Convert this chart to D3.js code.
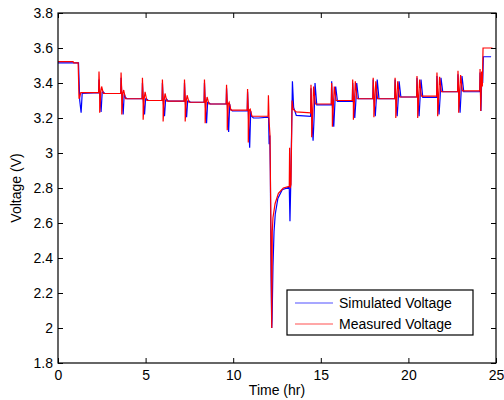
<!DOCTYPE html>
<html>
<head>
<meta charset="utf-8">
<script src="https://cdn.jsdelivr.net/npm/d3@7"></script>
<style>
  body { margin: 0; background: #fff; }
  svg { font-family: "Liberation Sans", Arial, sans-serif; }
</style>
</head>
<body>
<div id="chart"></div>
<script>
// x ticks / y ticks
const xTicks = [0, 5, 10, 15, 20, 25];
const yTicks = [1.8, 2, 2.2, 2.4, 2.6, 2.8, 3, 3.2, 3.4, 3.6, 3.8];

// [time (hr), voltage] before the first pulse
const simulatedStart = [[0, 3.515], [1.17, 3.515], [1.24, 3.3], [1.32, 3.23], [1.38, 3.34], [2.32, 3.345]];
const measuredStart = [[0, 3.522], [0.86, 3.522], [0.9, 3.515], [1.15, 3.515], [1.2, 3.31], [1.24, 3.32], [1.3, 3.345], [2.32, 3.345]];

// pulses: [time, peak, dip, second peak, level after]
const simulatedPulses = [
  [2.34, 3.42, 3.235, 3.35, 3.34],
  [3.6, 3.43, 3.22, 3.32, 3.31],
  [4.82, 3.40, 3.22, 3.31, 3.30],
  [5.96, 3.40, 3.21, 3.31, 3.297],
  [7.22, 3.40, 3.205, 3.30, 3.29],
  [8.36, 3.40, 3.17, 3.29, 3.28],
  [9.62, 3.37, 3.12, 3.25, 3.24],
  [10.82, 3.35, 3.03, 3.21, 3.20],
  [14.44, 3.37, 3.07, 3.40, 3.275],
  [15.62, 3.41, 3.15, 3.38, 3.295],
  [16.82, 3.40, 3.20, 3.40, 3.31],
  [17.99, 3.42, 3.21, 3.42, 3.31],
  [19.24, 3.42, 3.21, 3.41, 3.32],
  [20.49, 3.43, 3.21, 3.42, 3.318],
  [21.63, 3.44, 3.22, 3.43, 3.35],
  [22.83, 3.45, 3.23, 3.44, 3.35],
];
const measuredPulses = [
  [2.34, 3.465, 3.23, 3.38, 3.34],
  [3.6, 3.46, 3.22, 3.36, 3.31],
  [4.82, 3.43, 3.19, 3.35, 3.30],
  [5.96, 3.42, 3.18, 3.34, 3.297],
  [7.22, 3.42, 3.18, 3.33, 3.29],
  [8.36, 3.42, 3.17, 3.32, 3.28],
  [9.62, 3.39, 3.13, 3.29, 3.245],
  [10.82, 3.365, 3.06, 3.25, 3.21],
  [14.44, 3.39, 3.09, 3.38, 3.28],
  [15.62, 3.40, 3.15, 3.38, 3.30],
  [16.82, 3.42, 3.19, 3.41, 3.31],
  [17.99, 3.43, 3.205, 3.41, 3.31],
  [19.24, 3.43, 3.20, 3.41, 3.32],
  [20.49, 3.44, 3.20, 3.42, 3.325],
  [21.63, 3.46, 3.21, 3.435, 3.35],
  [22.83, 3.47, 3.23, 3.445, 3.355],
];

// deep discharge around 12 hr
const simulatedDrop = [
  [11.99, 3.205], [12.02, 3.2], [12.05, 3.05], [12.09, 3.1], [12.12, 2.9], [12.16, 2.3], [12.2, 2.0],
  [12.22, 2.05], [12.27, 2.35], [12.33, 2.55], [12.4, 2.65], [12.55, 2.74], [12.8, 2.79], [13.2, 2.805],
  [13.24, 2.61], [13.28, 2.8], [13.33, 3.1], [13.38, 3.41], [13.45, 3.26], [13.6, 3.215], [14.42, 3.21],
];
const measuredDrop = [
  [11.99, 3.21], [12.01, 3.33], [12.05, 3.18], [12.1, 3.1], [12.15, 2.6], [12.2, 2.0],
  [12.23, 2.55], [12.27, 2.63], [12.39, 2.71], [12.58, 2.77], [12.86, 2.80], [13.2, 2.81],
  [13.22, 3.03], [13.25, 2.8], [13.3, 2.82], [13.36, 3.30], [13.42, 3.25], [13.6, 3.235], [14.42, 3.23],
];

// last pulse and final charge step
const simulatedEnd = [[24.07, 3.35], [24.09, 3.46], [24.14, 3.24], [24.19, 3.45], [24.24, 3.40], [24.28, 3.55], [24.72, 3.55]];
const measuredEnd = [[24.07, 3.355], [24.09, 3.48], [24.13, 3.24], [24.18, 3.465], [24.22, 3.38], [24.26, 3.6], [24.8, 3.6]];

function buildSeries(start, pulses, drop, end, lag) {
  const pts = start.slice();
  const addPulse = (p) => {
    const prev = pts[pts.length - 1][1];
    const [t, peak, dip, peak2, level] = p;
    pts.push([t - 0.02, prev], [t, peak], [t + 0.04, prev], [t + 0.04 + lag, dip],
      [t + 0.1 + lag, prev], [t + 0.15 + lag, peak2], [t + 0.25 + lag, level], [t + 0.55 + lag, level]);
  };
  pulses.filter(p => p[0] < 12).forEach(addPulse);
  drop.forEach(d => pts.push(d));
  pulses.filter(p => p[0] > 12).forEach(addPulse);
  pts.push([end[0][0] - 0.5, pts[pts.length - 1][1]]);
  end.forEach(d => pts.push(d));
  return pts;
}

const simulated = buildSeries(simulatedStart, simulatedPulses, simulatedDrop, simulatedEnd, 0.08);
const measured = buildSeries(measuredStart, measuredPulses, measuredDrop, measuredEnd, 0);

const margin = { top: 13, right: 8, bottom: 37, left: 58 };
const width = 504 - margin.left - margin.right;
const height = 400 - margin.top - margin.bottom;

const svg = d3.select('#chart')
  .append('svg')
  .attr('width', 504)
  .attr('height', 400);
const g = svg.append('g')
  .attr('transform', `translate(${margin.left},${margin.top})`);

const x = d3.scaleLinear().domain([0, 25]).range([0, width]);
const y = d3.scaleLinear().domain([1.8, 3.8]).range([height, 0]);

const line = d3.line()
  .x(d => x(d[0]))
  .y(d => y(d[1]));

g.append('path')
  .datum(simulated)
  .attr('d', line)
  .attr('fill', 'none')
  .attr('stroke', '#0000ff')
  .attr('stroke-width', 1.2);
g.append('path')
  .datum(measured)
  .attr('d', line)
  .attr('fill', 'none')
  .attr('stroke', '#ff0000')
  .attr('stroke-width', 1.2);

// axes with inward ticks
const fmt = d => String(+d.toFixed(1));
const xAxis = g.append('g')
  .attr('transform', `translate(0,${height})`)
  .call(d3.axisBottom(x).tickValues(xTicks).tickFormat(fmt).tickSizeInner(-5).tickSizeOuter(0).tickPadding(7));
const yAxis = g.append('g')
  .call(d3.axisLeft(y).tickValues(yTicks).tickFormat(fmt).tickSizeInner(-5).tickSizeOuter(0).tickPadding(5));
g.append('g')
  .call(d3.axisTop(x).tickValues(xTicks).tickFormat('').tickSizeInner(-5).tickSizeOuter(0));
g.append('g')
  .attr('transform', `translate(${width},0)`)
  .call(d3.axisRight(y).tickValues(yTicks).tickFormat('').tickSizeInner(-5).tickSizeOuter(0));

g.selectAll('.domain').remove();
g.selectAll('.tick line').attr('stroke', '#000');
[xAxis, yAxis].forEach(a => a.selectAll('text')
  .attr('fill', '#000')
  .style('font-size', '14px')
  .style('font-family', '"Liberation Sans", Arial, sans-serif'));

g.append('rect')
  .attr('width', width)
  .attr('height', height)
  .attr('fill', 'none')
  .attr('stroke', '#000')
  .attr('stroke-width', 1.2);

svg.append('text')
  .attr('x', margin.left + width / 2)
  .attr('y', 395)
  .attr('text-anchor', 'middle')
  .style('font-size', '14px')
  .text('Time (hr)');
svg.append('text')
  .attr('transform', `translate(21,${margin.top + height / 2}) rotate(-90)`)
  .attr('text-anchor', 'middle')
  .style('font-size', '14px')
  .text('Voltage (V)');

// legend
const legendItems = [
  { label: 'Simulated Voltage', color: '#5050ff' },
  { label: 'Measured Voltage', color: '#ff5050' },
];
const legend = svg.append('g').attr('transform', 'translate(287,290)');
legend.append('rect')
  .attr('width', 186)
  .attr('height', 45)
  .attr('fill', '#fff')
  .attr('stroke', '#000')
  .attr('stroke-width', 1.2);
legendItems.forEach((item, i) => {
  const row = legend.append('g').attr('transform', `translate(0,${13 + i * 21})`);
  row.append('line')
    .attr('x1', 8).attr('x2', 46)
    .attr('y1', 0).attr('y2', 0)
    .attr('stroke', item.color)
    .attr('stroke-width', 1.2);
  row.append('text')
    .attr('x', 52)
    .attr('dy', '0.35em')
    .style('font-size', '14px')
    .text(item.label);
});
</script>
</body>
</html>
